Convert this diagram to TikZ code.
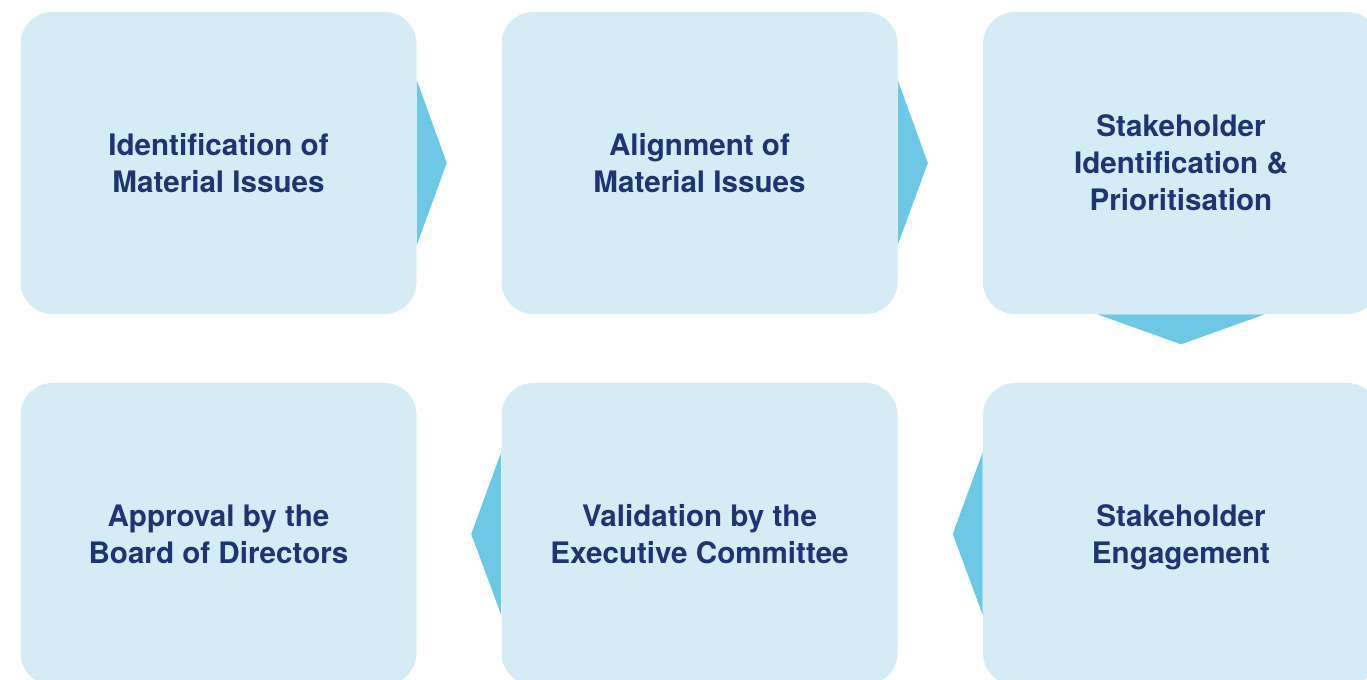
\documentclass[tikz,border=0pt]{standalone}
\usepackage{fontspec}
\setmainfont{TeX Gyre Heros}
\usepackage{xcolor}
\usetikzlibrary{calc,positioning}

\definecolor{boxfill}{HTML}{D4ECF5}
\definecolor{arrowfill}{HTML}{6DC8E6}
\definecolor{textblue}{HTML}{1F3572}

\begin{document}
\begin{tikzpicture}[x=0.75pt,y=-0.75pt,
    stage/.style={rectangle, rounded corners=24pt, fill=boxfill,
        minimum width=297pt, minimum height=226.5pt, align=center,
        text=textblue, font=\bfseries\fontsize{22.2}{27.75}\selectfont},
    pointer/.style={fill=arrowfill}]

    % Frame of the picture
    \useasboundingbox (0,0) rectangle (1367,680);
    \clip (0,0) rectangle (1367,680);

    % Top row of stages
    \node[stage] (ident) at (218.5,163) {Identification of\\Material Issues};
    \node[stage] (align) at (699.5,163) {Alignment of\\Material Issues};
    \node[stage] (prior) at (1181,163) {Stakeholder\\Identification \&\\Prioritisation};

    % Bottom row of stages
    \node[stage] (engage) at (1181,534) {Stakeholder\\\smash{Engagement}}; % no descender, same lines as the others
    \node[stage] (valid) at (699.5,534) {Validation by the\\Executive Committee};
    \node[stage] (approve) at (218.5,534) {Approval by the\\Board of Directors};

    % Pointers to the right
    \fill[pointer] ($(ident.east)+(0,-83)$) -- ($(ident.east)+(30,0)$) -- ($(ident.east)+(0,82)$) -- cycle;
    \fill[pointer] ($(align.east)+(0,-83)$) -- ($(align.east)+(30,0)$) -- ($(align.east)+(0,82)$) -- cycle;

    % Pointer down
    \fill[pointer] ($(prior.south)+(-84,0)$) -- ($(prior.south)+(0,30)$) -- ($(prior.south)+(84,0)$) -- cycle;

    % Pointers to the left
    \fill[pointer] ($(engage.west)+(0,-82)$) -- ($(engage.west)+(-30,0)$) -- ($(engage.west)+(0,81)$) -- cycle;
    \fill[pointer] ($(valid.west)+(0,-82)$) -- ($(valid.west)+(-30,0)$) -- ($(valid.west)+(0,81)$) -- cycle;

\end{tikzpicture}
\end{document}
